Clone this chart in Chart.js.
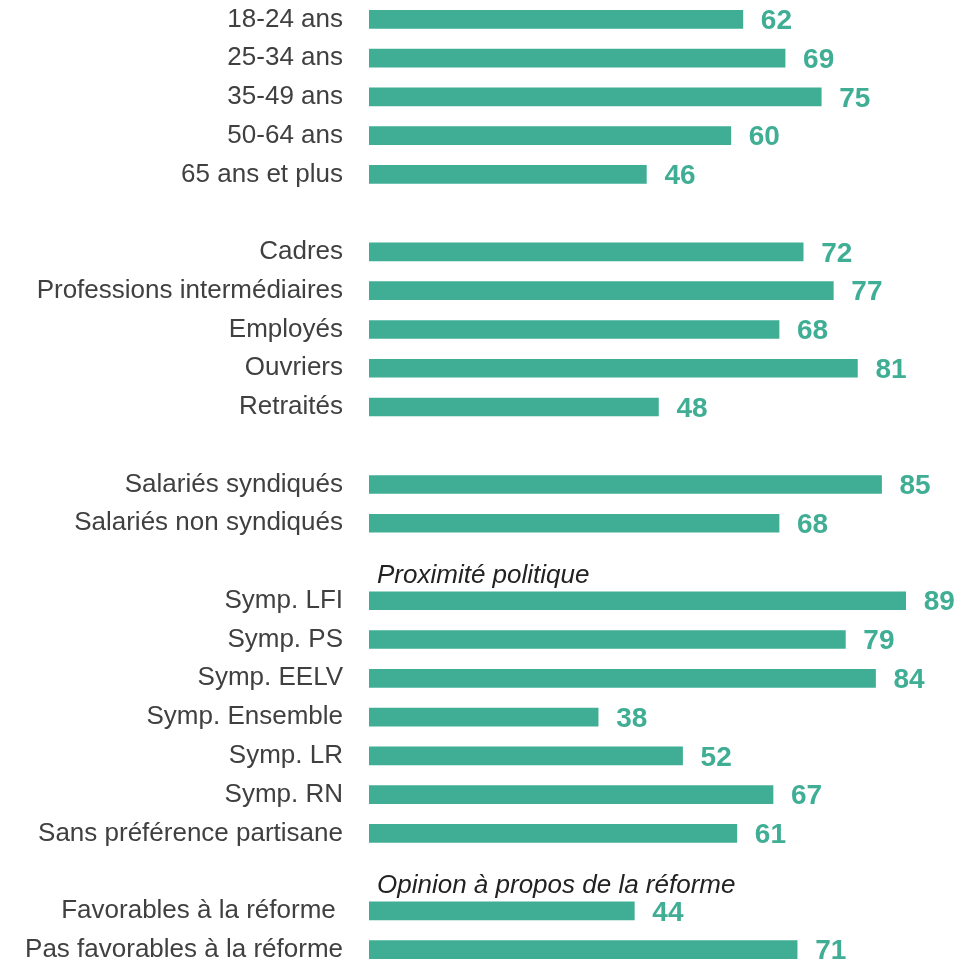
<!DOCTYPE html>
<html>
<head>
<meta charset="utf-8">
<script src="https://cdn.jsdelivr.net/npm/chart.js@4.4.0/dist/chart.umd.min.js"></script>
<style>
  html, body { margin: 0; padding: 0; background: #fff; overflow: hidden; }
  #wrap { width: 973px; height: 969px; position: relative; }
</style>
</head>
<body>
<div id="wrap"><canvas id="chart"></canvas></div>
<script>
const categories = [
  '18-24 ans', '25-34 ans', '35-49 ans', '50-64 ans', '65 ans et plus', '',
  'Cadres', 'Professions intermédiaires', 'Employés', 'Ouvriers', 'Retraités', '',
  'Salariés syndiqués', 'Salariés non syndiqués', '',
  'Symp. LFI', 'Symp. PS', 'Symp. EELV', 'Symp. Ensemble', 'Symp. LR', 'Symp. RN', 'Sans préférence partisane', '',
  'Favorables à la réforme ', 'Pas favorables à la réforme'
];
const values = [
  62, 69, 75, 60, 46, null,
  72, 77, 68, 81, 48, null,
  85, 68, null,
  89, 79, 84, 38, 52, 67, 61, null,
  44, 71
];
// italic section titles, placed in the empty rows
const headerRows = [14, 22];
const headerTexts = ['Proximité politique', 'Opinion à propos de la réforme'];

const green = '#3fae94';
const font = '"Liberation Sans", Arial, sans-serif';

const valueLabels = {
  id: 'valueLabels',
  afterDatasetsDraw(chart) {
    const ctx = chart.ctx;
    const meta = chart.getDatasetMeta(0);
    ctx.save();
    ctx.fillStyle = green;
    ctx.font = 'bold 28px ' + font;
    ctx.textAlign = 'left';
    ctx.textBaseline = 'middle';
    meta.data.forEach((bar, i) => {
      if (values[i] == null) return;
      ctx.fillText(values[i], bar.x + 18, bar.y + 2);
    });
    ctx.restore();
  }
};

const headers = {
  id: 'headers',
  afterDraw(chart) {
    const ctx = chart.ctx;
    const y = chart.scales.y;
    ctx.save();
    ctx.fillStyle = '#222';
    ctx.font = 'italic 26px ' + font;
    ctx.textAlign = 'left';
    ctx.textBaseline = 'middle';
    headerRows.forEach((row, i) => {
      ctx.fillText(headerTexts[i], chart.chartArea.left + 8, y.getPixelForValue(row) + 14);
    });
    ctx.restore();
  }
};

new Chart(document.getElementById('chart'), {
  type: 'bar',
  data: {
    labels: categories,
    datasets: [{
      data: values,
      backgroundColor: green,
      barThickness: 18,
      borderWidth: 0
    }]
  },
  options: {
    indexAxis: 'y',
    responsive: true,
    maintainAspectRatio: false,
    animation: false,
    layout: { padding: { top: 0, bottom: 0, left: 0, right: 1 } },
    plugins: {
      legend: { display: false },
      tooltip: { enabled: false }
    },
    scales: {
      x: { display: false, min: 0, max: 100 },
      y: {
        grid: { display: false },
        border: { display: false },
        afterFit(scale) {
          scale.width = 369;
          scale.paddingTop = 0;
          scale.paddingBottom = 0;
        },
        ticks: {
          autoSkip: false,
          padding: 18,
          color: '#404040',
          font: { family: font, size: 26 }
        }
      }
    }
  },
  plugins: [valueLabels, headers]
});
</script>
</body>
</html>
